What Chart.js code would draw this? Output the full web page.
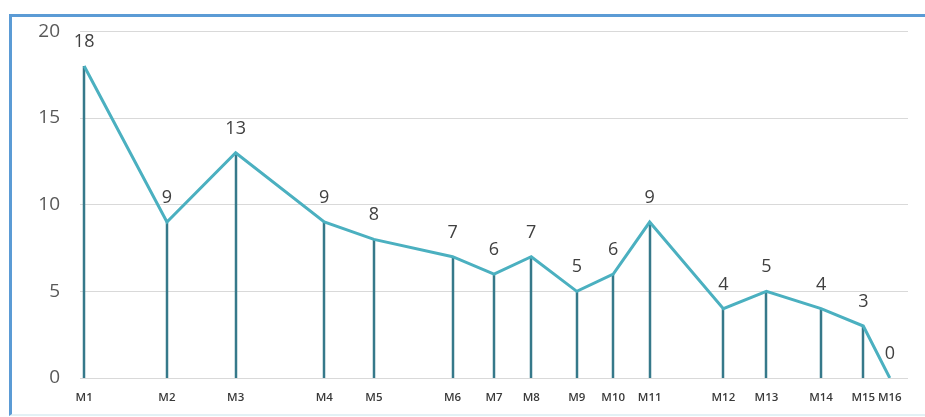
<!DOCTYPE html>
<html>
<head>
<meta charset="utf-8">
<script src="https://cdn.jsdelivr.net/npm/chart.js@4"></script>
<style>
  html, body { margin: 0; padding: 0; background: #ffffff; }
  #wrap { position: relative; width: 925px; height: 417px; overflow: hidden; }
  #frame { position: absolute; left: 9px; top: 14px; width: 930px; height: 397px;
           border-top: 3px solid #5b9bd5; border-left: 3px solid #5b9bd5;
           border-bottom: 2px solid #e3f1f5; pointer-events: none; }
  canvas { position: absolute; left: 0; top: 0; }
</style>
</head>
<body>
<div id="wrap">
  <canvas id="c" width="925" height="417"></canvas>
  <div id="frame"></div>
</div>
<script>
// Category labels
const labels = ["M1","M2","M3","M4","M5","M6","M7","M8","M9","M10","M11","M12","M13","M14","M15","M16"];
// Horizontal position of each category on the (irregular) x axis, 0-100 units
const xPositions = [0.5, 10.5, 18.8, 29.5, 35.5, 45.0, 50.0, 54.5, 60.0, 64.4, 68.8, 77.7, 82.9, 89.5, 94.6, 97.8];
// Series values
const values = [18, 9, 13, 9, 8, 7, 6, 7, 5, 6, 9, 4, 5, 4, 3, 0];
// Y tick values
const yTicks = [0, 5, 10, 15, 20];

const FONT = "'Open Sans', 'Liberation Sans', sans-serif";

const dropLines = {
  id: 'dropLines',
  beforeDatasetsDraw(chart) {
    const ctx = chart.ctx, xs = chart.scales.x, ys = chart.scales.y;
    ctx.save();
    ctx.strokeStyle = '#36798a';
    ctx.lineWidth = 2.5;
    values.forEach((v, i) => {
      const px = Math.round(xs.getPixelForValue(xPositions[i]));
      ctx.beginPath();
      ctx.moveTo(px, ys.getPixelForValue(v));
      ctx.lineTo(px, ys.getPixelForValue(0));
      ctx.stroke();
    });
    ctx.restore();
  }
};

const valueLabels = {
  id: 'valueLabels',
  afterDatasetsDraw(chart) {
    const ctx = chart.ctx, xs = chart.scales.x, ys = chart.scales.y;
    ctx.save();
    ctx.fillStyle = '#404040';
    ctx.font = '18px ' + FONT;
    ctx.textAlign = 'center';
    ctx.textBaseline = 'middle';
    values.forEach((v, i) => {
      ctx.fillText(String(v), xs.getPixelForValue(xPositions[i]), ys.getPixelForValue(v) - 24);
    });
    ctx.restore();
  }
};

new Chart(document.getElementById('c'), {
  type: 'line',
  data: {
    datasets: [{
      data: xPositions.map((x, i) => ({ x: x, y: values[i] })),
      borderColor: '#4bb0c0',
      borderWidth: 3,
      pointRadius: 0,
      tension: 0,
      fill: false
    }]
  },
  options: {
    responsive: false,
    animation: false,
    layout: { padding: { left: 0, right: 17, top: 30, bottom: 0 } },
    plugins: { legend: { display: false }, tooltip: { enabled: false } },
    scales: {
      x: {
        type: 'linear',
        min: 0, max: 100,
        grid: { display: false, drawTicks: false },
        border: { display: false },
        afterBuildTicks(axis) { axis.ticks = xPositions.map(v => ({ value: v })); },
        afterFit(scale) { scale.height = 39; },
        ticks: {
          autoSkip: false, maxRotation: 0, padding: 13,
          color: '#3a3a3a',
          font: { family: FONT, size: 11.5, weight: '600' },
          callback: (value, index) => labels[index]
        }
      },
      y: {
        min: 0, max: 20,
        afterBuildTicks(axis) { axis.ticks = yTicks.map(v => ({ value: v })); },
        afterFit(scale) { scale.width = 80; },
        grid: { color: '#d9d9d9', lineWidth: 1, drawTicks: false },
        border: { display: false },
        ticks: {
          padding: 20,
          color: '#595959',
          font: { family: FONT, size: 19 }
        }
      }
    }
  },
  plugins: [dropLines, valueLabels]
});
</script>
</body>
</html>
